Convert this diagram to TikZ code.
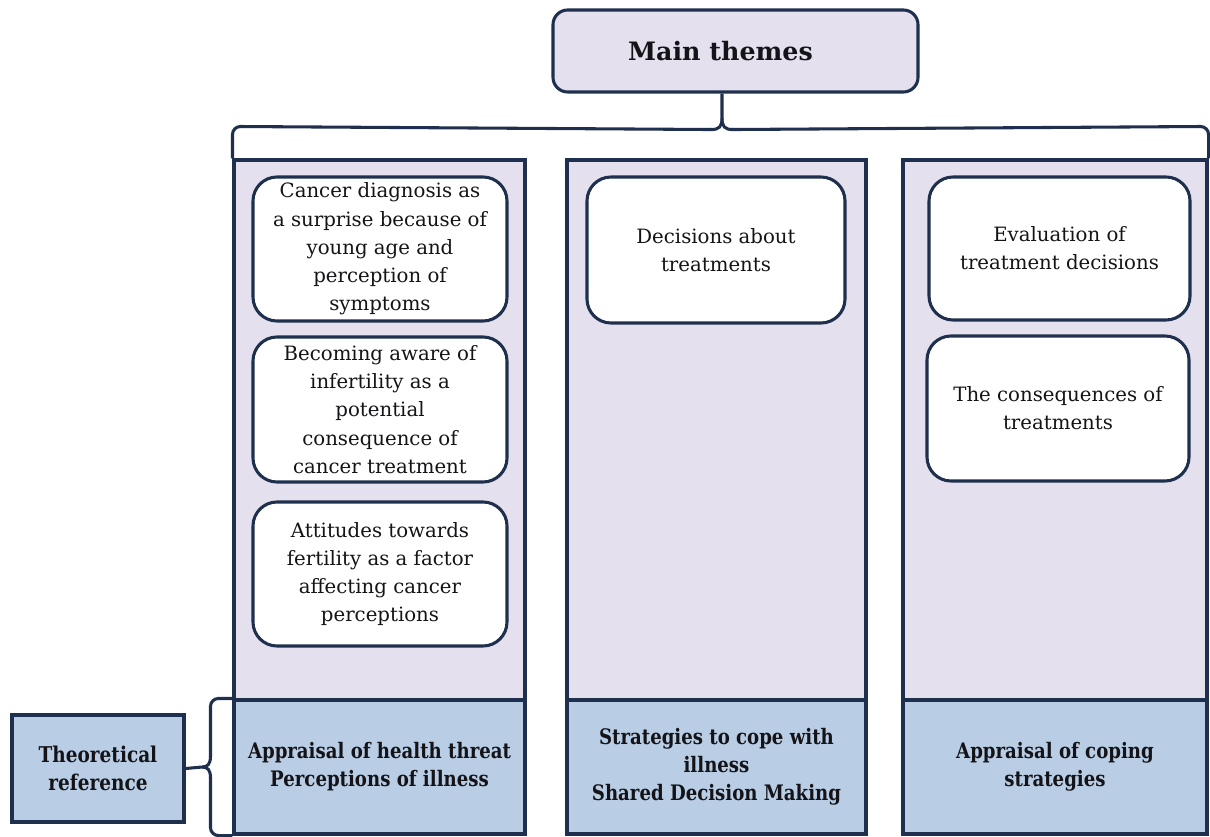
\documentclass[tikz,border=0pt]{standalone}
\usepackage{fontspec}
\setmainfont{DejaVu Serif}
\newfontfamily\lblfont[FakeStretch=0.85]{DejaVu Serif}
\usetikzlibrary{calc}
\definecolor{edge}{RGB}{30,48,77}
\definecolor{lav}{RGB}{228,224,237}
\definecolor{paleblue}{RGB}{185,205,229}
\definecolor{ink}{RGB}{20,20,24}
\newcommand{\pu}{0.75pt}
\tikzset{
  frame/.style={draw=edge, line width=2.3pt},
  colupper/.style={frame, fill=lav, inner sep=0pt},
  collower/.style={frame, fill=paleblue, inner sep=0pt, align=center,
    font=\lblfont\bfseries\fontsize{16pt}{21pt}\selectfont, text=ink},
  theme/.style={frame, fill=white, rounded corners=18pt, align=center,
    inner sep=0pt, text=ink, font=\fontsize{14.8pt}{21.2pt}\selectfont},
  titlebox/.style={frame, fill=lav, rounded corners=11pt, inner sep=0pt,
    font=\bfseries\fontsize{19pt}{22pt}\selectfont, text=ink},
  link/.style={draw=edge, line width=2.3pt},
  softlink/.style={link, rounded corners=6pt}
}
\begin{document}
\begin{tikzpicture}[x=\pu, y=-\pu]
\useasboundingbox (0,0) rectangle (1210,837);

% heading
\node[titlebox, minimum width=365*\pu, minimum height=82*\pu] (main) at (735.5,51) {\hspace*{-22.5pt}Main themes};

% three columns: theme area above, theoretical strand below
\node[colupper, minimum width=291*\pu, minimum height=540*\pu] (c1) at (379.5,430) {};
\node[colupper, minimum width=299*\pu, minimum height=540*\pu] (c2) at (716.5,430) {};
\node[colupper, minimum width=304*\pu, minimum height=540*\pu] (c3) at (1055,430) {};

\node[collower, minimum width=291*\pu, minimum height=134*\pu] (b1) at (379.5,767)
  {Appraisal of health threat\\Perceptions of illness};
\node[collower, minimum width=299*\pu, minimum height=134*\pu] (b2) at (716.5,767)
  {Strategies to cope with\\illness\\Shared Decision Making};
\node[collower, minimum width=304*\pu, minimum height=134*\pu] (b3) at (1055,767)
  {Appraisal of coping\\strategies};

% themes
\node[theme, minimum width=254*\pu, minimum height=144*\pu] (t1) at (380,249)
  {Cancer diagnosis as\\a surprise because of\\young age and\\perception of\\symptoms};
\node[theme, minimum width=254*\pu, minimum height=145*\pu] (t2) at (380,409.5)
  {Becoming aware of\\infertility as a\\potential\\consequence of\\cancer treatment};
\node[theme, minimum width=254*\pu, minimum height=144*\pu] (t3) at (380,574)
  {Attitudes towards\\fertility as a factor\\affecting cancer\\perceptions};
\node[theme, minimum width=258*\pu, minimum height=146*\pu] (t4) at (716,250)
  {Decisions about\\treatments};
\node[theme, minimum width=261*\pu, minimum height=143*\pu] (t5) at (1059.5,248.5)
  {Evaluation of\\treatment decisions};
\node[theme, minimum width=262*\pu, minimum height=145*\pu] (t6) at (1058,408.5)
  {The consequences of\\treatments};

% side label
\node[collower, minimum width=172*\pu, minimum height=107*\pu,
  font=\lblfont\bfseries\fontsize{16.3pt}{21pt}\selectfont] (ref) at (98,768.5)
  {Theoretical\\reference};

% brace from heading down to the columns
\coordinate (tip) at ($(main.south)+(-13.5,0)$);
\draw[softlink] (c1.north west) -- ($(c1.north west)+(0,-32)$) -- ($(tip)+(-10,36)$);
\draw[link] ($(tip)+(-10.5,36)$) .. controls ($(tip)+(-3,36)$) and ($(tip)+(0,33)$) .. ($(tip)+(0,25)$) -- (tip);
\draw[link] ($(tip)+(0,25)$) .. controls ($(tip)+(0,33)$) and ($(tip)+(3,36)$) .. ($(tip)+(10.5,36)$);
\draw[softlink] ($(tip)+(10,36)$) -- ($(c3.north east)+(0,-32)$) -- (c3.north east);

% bracket joining the side label to the lower strand
\coordinate (bk) at ($(b1.west)+(-22,0)$);
\draw[softlink] (b1.north west) -- ($(b1.north west)+(-22,0)$) -- ($(bk)+(0,-10)$);
\draw[link] ($(bk)+(0,-10.5)$) .. controls ($(bk)+(0,-3)$) and ($(bk)+(-3,0)$) .. ($(bk)+(-8,0)$) -- (ref.east);
\draw[link] ($(bk)+(-8,0)$) .. controls ($(bk)+(-3,0)$) and ($(bk)+(0,3)$) .. ($(bk)+(0,10.5)$);
\draw[softlink] ($(bk)+(0,10)$) -- ($(b1.south west)+(-22,0)$) -- (b1.south west);
\end{tikzpicture}
\end{document}
